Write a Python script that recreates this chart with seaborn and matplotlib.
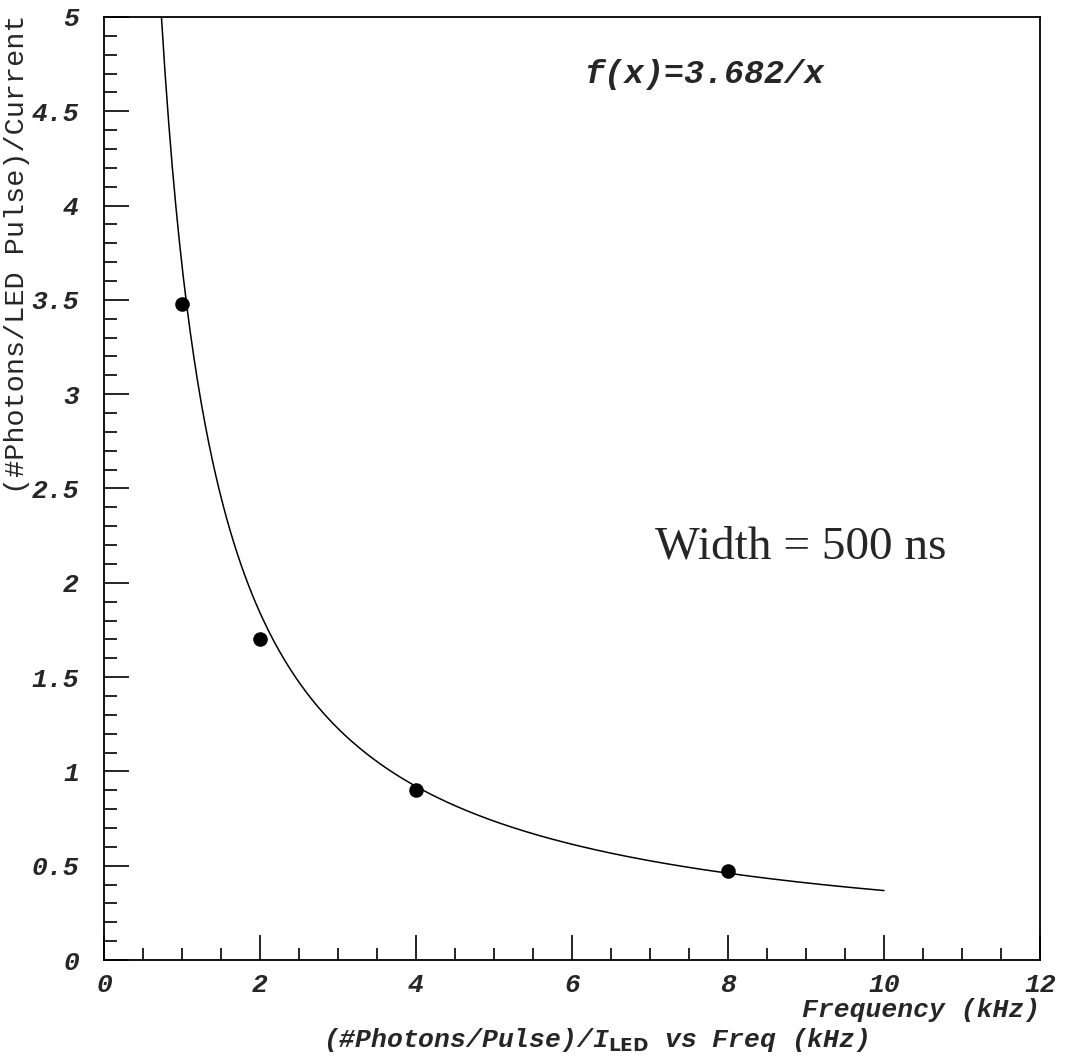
import numpy as np
import pandas as pd
import seaborn as sns
import matplotlib
matplotlib.use("Agg")
import matplotlib.pyplot as plt
from matplotlib.ticker import MultipleLocator, FuncFormatter

# ---- data ----
freq_khz = [1, 2, 4, 8]
photons_per_current = [3.48, 1.70, 0.90, 0.47]
fit_coef = 3.682
fit_xmax = 10.0
x_range = (0, 12)
y_range = (0, 5)

sns.set_style("ticks")
plt.rcParams['font.family'] = ['Liberation Mono', 'DejaVu Sans']

W, H = 1065, 1057
fig = plt.figure(figsize=(W / 100, H / 100), dpi=100)
ax = fig.add_axes([104/W, 1 - 960/H, (1040-104)/W, (960-17)/H])

# fit curve f(x) = coef / x
fit_x = np.linspace(fit_coef / y_range[1], fit_xmax, 400)
fit_df = pd.DataFrame({"x": fit_x, "y": fit_coef / fit_x})
sns.lineplot(data=fit_df, x="x", y="y", ax=ax, color="black", linewidth=1.1,
             sort=False, estimator=None)

pts = pd.DataFrame({"f": freq_khz, "v": photons_per_current})
sns.scatterplot(data=pts, x="f", y="v", ax=ax, color="black", s=110,
                edgecolor="black", linewidth=0, zorder=5)

ax.set_xlim(*x_range)
ax.set_ylim(*y_range)
ax.xaxis.set_major_locator(MultipleLocator(2))
ax.xaxis.set_minor_locator(MultipleLocator(0.5))
ax.yaxis.set_major_locator(MultipleLocator(0.5))
ax.yaxis.set_minor_locator(MultipleLocator(0.1))
fmt = FuncFormatter(lambda v, p: "%g" % round(v, 3))
ax.xaxis.set_major_formatter(fmt)
ax.yaxis.set_major_formatter(fmt)

ax.tick_params(which="major", direction="in", length=18, width=1.2, color="black")
ax.tick_params(which="minor", direction="in", length=9, width=1.2, color="black")
ax.tick_params(axis="x", which="major", pad=9)
ax.tick_params(axis="y", which="major", pad=18)
for lab in ax.get_xticklabels() + ax.get_yticklabels():
    lab.set_fontfamily("Liberation Mono")
    lab.set_fontweight("bold")
    lab.set_fontstyle("italic")
    lab.set_fontsize(19)

for s in ax.spines.values():
    s.set_color("black")
    s.set_linewidth(1.3)
    s.set_visible(True)

ax.set_xlabel("")
ax.set_ylabel("")

lab_font = dict(family="Liberation Mono", weight="bold", style="italic", fontsize=19)
fig.text(1040/W, 1 - 1010/H, "Frequency (kHz)", ha="right", va="center", **lab_font)
fig.text(17/W, 1 - 14/H, "(#Photons/LED Pulse)/Current", ha="center", va="top",
         rotation=90, family="Liberation Mono", fontsize=20.5)
fig.text(596/W, 1 - 1040/H, r"(#Photons/Pulse)/I$_{\mathit{\mathbf{LED}}}$ vs Freq (kHz)",
         ha="center", va="center", **lab_font)

fig.text(705/W, 1 - 75/H, "f(x)=3.682/x", ha="center", va="center",
         family="Liberation Mono", weight="bold", style="italic", fontsize=24)
fig.text(801/W, 1 - 547/H, "Width = 500 ns", ha="center", va="center",
         family="Liberation Serif", fontsize=34)

fig.savefig("out.png", dpi=100)
